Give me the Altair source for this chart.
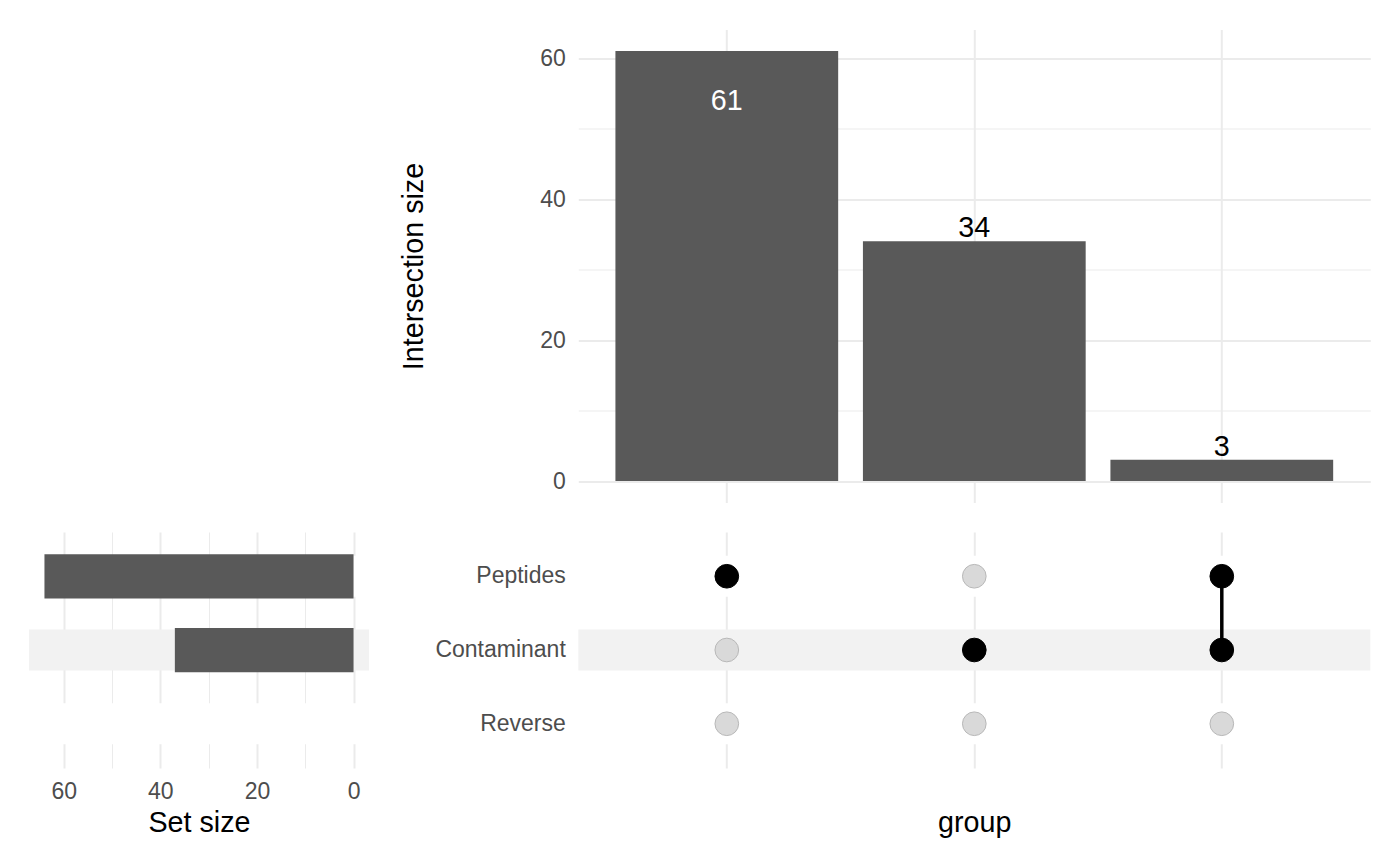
import altair as alt
import pandas as pd

FONT = "Liberation Sans"

# ---- data ----
sets = ["Peptides", "Contaminant", "Reverse"]
set_sizes = [64, 37, 0]
intersections = ["Peptides", "Contaminant", "Contaminant-Peptides"]
intersection_sizes = [61, 34, 3]
membership = [
    [True, False, False],
    [False, True, False],
    [True, True, False],
]
tick_values = [0, 10, 20, 30, 40, 50, 60]

# ---- tables ----
top_df = pd.DataFrame({"intersection": intersections, "size": intersection_sizes})
set_df = pd.DataFrame({"set": sets, "size": set_sizes})
stripe_df = pd.DataFrame({"set": sets, "shade": [j % 2 for j in range(len(sets))]})
rows = []
for i, inter in enumerate(intersections):
    for j, s in enumerate(sets):
        rows.append({"intersection": inter, "set": s, "active": membership[i][j], "order": j})
mat_df = pd.DataFrame(rows)

GRID = "#EBEBEB"
BAR = "#595959"
TICK = "#4D4D4D"
grid_w = {"condition": {"test": "datum.value % 20 === 0", "value": 2}, "value": 1}
label_expr = "datum.value % 20 === 0 ? datum.label : ''"

x_band = alt.Scale(type="band", domain=intersections, paddingInner=0.1, paddingOuter=0.15)
y_band = alt.Scale(type="band", domain=sets, paddingInner=0.4, paddingOuter=0.3)

# ---- top: intersection sizes ----
top_x = alt.X("intersection:N", scale=x_band,
              axis=alt.Axis(grid=True, labels=False, ticks=False, domain=False,
                            title=None, gridColor=GRID, gridWidth=2))
top_y = alt.Y("size:Q", scale=alt.Scale(domain=[-3.05, 64.05], nice=False, zero=False),
              axis=alt.Axis(values=tick_values, labelExpr=label_expr, gridWidth=grid_w,
                            gridColor=GRID, labelPadding=13, minExtent=140, maxExtent=140,
                            titlePadding=10, title="Intersection size"))
top_base = alt.Chart(top_df).encode(x=top_x, y=top_y)
top_bars = top_base.mark_bar(color=BAR)
labels_in = (top_base.transform_joinaggregate(mx="max(size)")
             .transform_filter("datum.size >= 0.9 * datum.mx")
             .mark_text(color="white", dy=59, baseline="alphabetic", fontSize=28.7, font=FONT)
             .encode(text="size:Q"))
labels_out = (top_base.transform_joinaggregate(mx="max(size)")
              .transform_filter("datum.size < 0.9 * datum.mx")
              .mark_text(color="black", dy=-4, baseline="alphabetic", fontSize=28.7, font=FONT)
              .encode(text="size:Q"))
top = alt.layer(top_bars, labels_in, labels_out).properties(width=792, height=473)

# ---- matrix ----
m_x = alt.X("intersection:N", scale=x_band,
            axis=alt.Axis(grid=True, labels=False, ticks=False, domain=False,
                          title="group", titlePadding=40, gridColor=GRID, gridWidth=2))
m_y = alt.Y("set:N", scale=y_band,
            axis=alt.Axis(title=" ", labelPadding=13, grid=False, minExtent=140,
                          maxExtent=140, titlePadding=10))
shade = alt.Color("shade:N", scale=alt.Scale(domain=[0, 1], range=["white", "#F2F2F2"]), legend=None)

m_stripes = alt.Chart(stripe_df).mark_bar(height=41).encode(
    y=m_y, x=alt.value(0), x2=alt.value("width"), color=shade)
m_line = alt.Chart(mat_df).transform_filter("datum.active").mark_line(
    color="black", strokeWidth=3.5).encode(
    x=m_x, y=m_y, detail="intersection:N", order="order:Q")
m_points = alt.Chart(mat_df).mark_point(size=560, filled=False, opacity=1, strokeWidth=1).encode(
    x=m_x, y=m_y,
    fill=alt.Fill("active:N", scale=alt.Scale(domain=[True, False], range=["black", "#D9D9D9"]), legend=None),
    stroke=alt.Stroke("active:N", scale=alt.Scale(domain=[True, False], range=["black", "#B8B8B8"]), legend=None),
)
matrix = alt.layer(m_stripes, m_line, m_points).properties(width=792, height=236)

# ---- set sizes ----
s_x = alt.X("size:Q", scale=alt.Scale(domain=[-3.2, 67.2], reverse=True, nice=False, zero=False),
            axis=alt.Axis(values=tick_values, labelExpr=label_expr, gridWidth=grid_w,
                          gridColor=GRID, labelPadding=12, titlePadding=5.6, title="Set size"))
s_y = alt.Y("set:N", scale=y_band, axis=None)
s_stripes = alt.Chart(stripe_df).mark_bar(height=41).encode(
    y=s_y, x=alt.value(0), x2=alt.value("width"), color=shade)
s_bars = alt.Chart(set_df).mark_bar(color=BAR).encode(x=s_x, y=s_y)
setsize = alt.layer(s_stripes, s_bars).properties(width=340, height=236)

spacer = alt.Chart(pd.DataFrame({"v": [0]})).mark_point(opacity=0).encode(
    x=alt.value(170), y=alt.value(200)).properties(width=340, height=473)

left_col = alt.vconcat(spacer, setsize, spacing=29.5)
right_col = alt.vconcat(top, matrix, spacing=29.5)

chart = (
    alt.hconcat(left_col, right_col, spacing=30.3)
    .properties(padding={"left": 21, "top": 21.5, "right": 5, "bottom": 5})
    .configure(font=FONT)
    .configure_view(stroke=None)
    .configure_axis(labelFont=FONT, titleFont=FONT, labelFontSize=23, titleFontSize=28.7,
                    labelColor=TICK, titleColor="black", titleFontWeight="normal",
                    tickSize=0, ticks=False, domain=False)
)

chart.save("out.html", embed_options={"renderer": "svg", "actions": False})
